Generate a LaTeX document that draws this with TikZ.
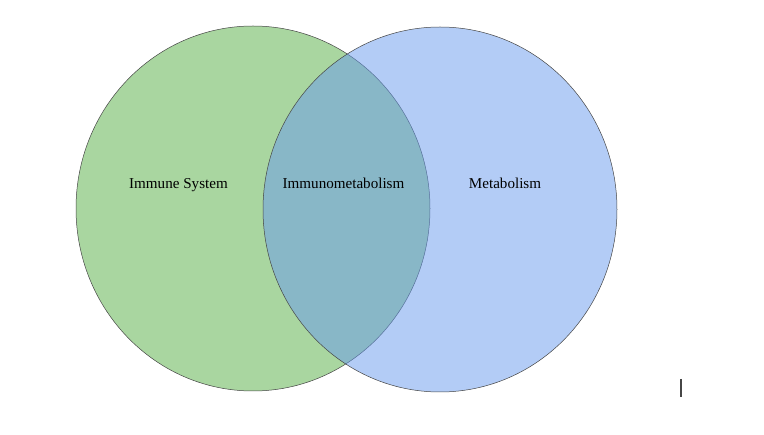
\documentclass[tikz,border=0pt]{standalone}
\usepackage{fontspec}
\setmainfont{Liberation Serif}
\usepackage{tikz}
\usetikzlibrary {positioning,
                 shapes.geometric}
\definecolor{immunegreen}{RGB}{169,214,160}
\definecolor{metablue}{RGB}{104,154,238}
\definecolor{rimgray}{RGB}{70,70,70}
\tikzset{
         vennset/.style={ellipse, draw=rimgray, line width=0.5pt, minimum width=354pt, minimum height=365pt, inner sep=0pt},
         setlabel/.style={font=\fontsize{15.1}{18}\selectfont, inner sep=0pt, anchor=base},
}

\begin{document}
\begin{tikzpicture}[x=1pt, y=-1pt]
    \useasboundingbox (0,0) rectangle (764,435);

    % Mengen
    \node[vennset, fill=immunegreen] (immune) at (253,208.5) {};
    \node[vennset, fill=metablue, fill opacity=0.5] (metab) at (440,209.5) {};

    % Beschriftungen
    \node[setlabel] (immune_text) at (178.5,189) {Immune System};
    \node[setlabel] (both_text) at (343.5,189) {Immunometabolism};
    \node[setlabel] (metab_text) at (505,189) {Metabolism};

    % Cursor
    \coordinate (cur_top) at (681,379);
    \coordinate (cur_bot) at (681,397);
    \draw[rimgray, line width=1.5pt] (cur_top) -- (cur_bot);

\end{tikzpicture}
\end{document}
